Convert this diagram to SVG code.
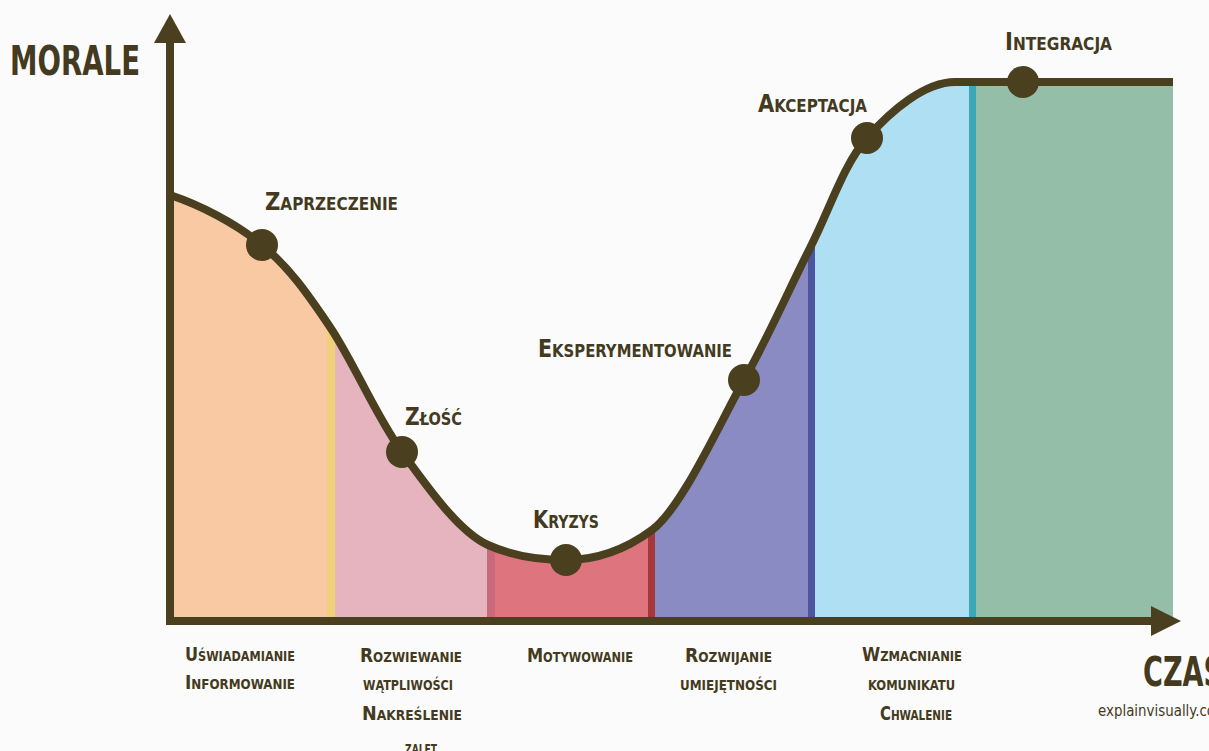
<svg xmlns="http://www.w3.org/2000/svg" width="1209" height="751" viewBox="0 0 1209 751">
<defs>
<style>
.bg{fill:#fbfbfb}
.ax{stroke:#4a3f1e;stroke-width:8;fill:none}
.ah{fill:#4a3f1e}
.curve{stroke:#4a3f1e;stroke-width:8;fill:none;stroke-linejoin:round}
.dot{fill:#4a3f1e}
text{font-family:"DejaVu Sans Condensed","DejaVu Sans","Liberation Sans",sans-serif;font-stretch:condensed;font-variant:small-caps;font-weight:bold;fill:#433a20}
.big{font-size:40px}
.lbl{font-size:25px}
.sub{font-size:20px}
.url{font-size:15px;font-variant:normal;font-weight:normal}
</style>
<clipPath id="under">
<path d="M170,195 C200,205 235.3,223 262,245 C288.7,267 306.7,292.5 330,327 C353.3,361.5 375.7,415.7 402,452 C428.3,488.3 459.3,532.1 488,545 C514,556.7 540,560 566,560 C594.7,560 622.3,552 652,530 C681.7,508 717.7,427 744,380 C770.3,333 789.5,288.3 810,248 C830.5,207.7 842.8,165.7 867,138 C891.2,110.3 925,82 955,82 L1173,82 L1173,621 L170,621 Z"/>
</clipPath>
</defs>
<rect class="bg" x="0" y="0" width="1209" height="751"/>

<g id="regions" clip-path="url(#under)">
<rect x="170" y="60" width="160" height="562" fill="#f8c9a2"/>
<rect x="327" y="60" width="8" height="562" fill="#f0d078"/>
<rect x="335" y="60" width="153" height="562" fill="#e6b4bf"/>
<rect x="487" y="60" width="8" height="562" fill="#c86a7e"/>
<rect x="495" y="60" width="154" height="562" fill="#de747d"/>
<rect x="648" y="60" width="7" height="562" fill="#a6373a"/>
<rect x="655" y="60" width="153" height="562" fill="#8a8bc3"/>
<rect x="808" y="60" width="7" height="562" fill="#4c559f"/>
<rect x="815" y="60" width="154" height="562" fill="#afdff3"/>
<rect x="969" y="60" width="7" height="562" fill="#3ca8b5"/>
<rect x="976" y="60" width="197" height="562" fill="#95bea8"/>
</g>

<g id="axes">
<line class="ax" x1="170" y1="625" x2="170" y2="38"/>
<polygon class="ah" points="154,43 170,14 186,43"/>
<line class="ax" x1="166" y1="621" x2="1156" y2="621"/>
<polygon class="ah" points="1151,606 1181,621 1151,636"/>
<text class="big" x="10" y="75" textLength="130" lengthAdjust="spacingAndGlyphs">MORALE</text>
<text class="big" x="1143" y="686" textLength="80" lengthAdjust="spacingAndGlyphs">CZAS</text>
<text class="url" x="1098" y="716" textLength="130" lengthAdjust="spacingAndGlyphs">explainvisually.com</text>
</g>

<g id="connectors">
<path class="curve" d="M170,195 C200,205 235.3,223 262,245 C288.7,267 306.7,292.5 330,327 C353.3,361.5 375.7,415.7 402,452 C428.3,488.3 459.3,532.1 488,545 C514,556.7 540,560 566,560 C594.7,560 622.3,552 652,530 C681.7,508 717.7,427 744,380 C770.3,333 789.5,288.3 810,248 C830.5,207.7 842.8,165.7 867,138 C891.2,110.3 925,82 955,82 L1173,82"/>
</g>

<g id="node-zaprzeczenie">
<circle class="dot" cx="262" cy="245" r="16"/>
<text class="lbl" x="265" y="210" textLength="133" lengthAdjust="spacingAndGlyphs">Zaprzeczenie</text>
</g>
<g id="node-zlosc">
<circle class="dot" cx="402" cy="452" r="16"/>
<text class="lbl" x="405" y="425" textLength="57" lengthAdjust="spacingAndGlyphs">Złość</text>
</g>
<g id="node-kryzys">
<circle class="dot" cx="566" cy="560" r="16"/>
<text class="lbl" x="533" y="528" textLength="66" lengthAdjust="spacingAndGlyphs">Kryzys</text>
</g>
<g id="node-eksperymentowanie">
<circle class="dot" cx="744" cy="380" r="16"/>
<text class="lbl" x="538" y="357" textLength="194" lengthAdjust="spacingAndGlyphs">Eksperymentowanie</text>
</g>
<g id="node-akceptacja">
<circle class="dot" cx="867" cy="138" r="16"/>
<text class="lbl" x="758" y="112" textLength="109" lengthAdjust="spacingAndGlyphs">Akceptacja</text>
</g>
<g id="node-integracja">
<circle class="dot" cx="1023" cy="82" r="16"/>
<text class="lbl" x="1005" y="50" textLength="107" lengthAdjust="spacingAndGlyphs">Integracja</text>
</g>

<g id="phase-1">
<text class="sub" x="185" y="661" textLength="110" lengthAdjust="spacingAndGlyphs">Uświadamianie</text>
<text class="sub" x="185" y="689" textLength="110" lengthAdjust="spacingAndGlyphs">Informowanie</text>
</g>
<g id="phase-2">
<text class="sub" x="360" y="662" textLength="102" lengthAdjust="spacingAndGlyphs">Rozwiewanie</text>
<text class="sub" x="363" y="690" textLength="90" lengthAdjust="spacingAndGlyphs">wątpliwości</text>
<text class="sub" x="362" y="720" textLength="100" lengthAdjust="spacingAndGlyphs">Nakreślenie</text>
<text class="sub" x="405" y="754" textLength="32" lengthAdjust="spacingAndGlyphs">zalet</text>
</g>
<g id="phase-3">
<text class="sub" x="527" y="662" textLength="106" lengthAdjust="spacingAndGlyphs">Motywowanie</text>
</g>
<g id="phase-4">
<text class="sub" x="685" y="662" textLength="87" lengthAdjust="spacingAndGlyphs">Rozwijanie</text>
<text class="sub" x="680" y="690" textLength="97" lengthAdjust="spacingAndGlyphs">umiejętności</text>
</g>
<g id="phase-5">
<text class="sub" x="862" y="661" textLength="100" lengthAdjust="spacingAndGlyphs">Wzmacnianie</text>
<text class="sub" x="868" y="690" textLength="87" lengthAdjust="spacingAndGlyphs">komunikatu</text>
<text class="sub" x="880" y="720" textLength="72" lengthAdjust="spacingAndGlyphs">Chwalenie</text>
</g>
</svg>
